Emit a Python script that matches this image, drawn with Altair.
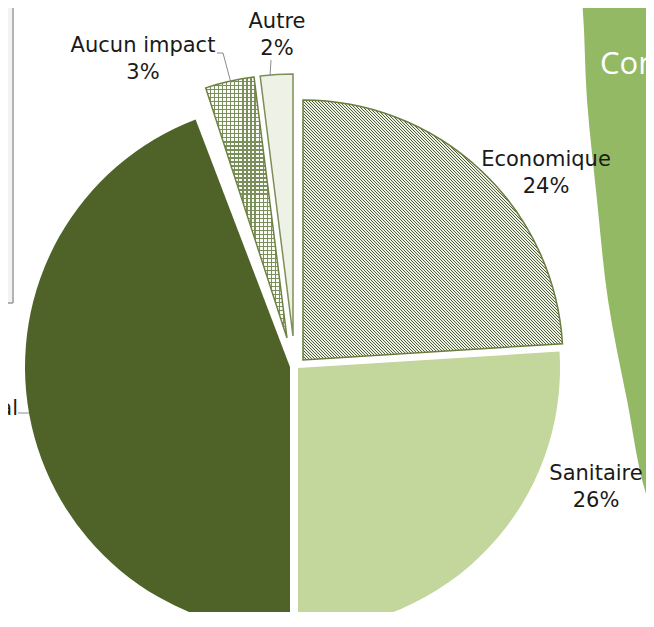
import math
import altair as alt
import pandas as pd

# ---------------- data ----------------
categories = ["Economique", "Sanitaire", "Environnemental", "Aucun impact", "Autre"]
values = [24, 26, 45, 3, 2]
pct_labels = ["24%", "26%", "45%", "3%", "2%"]

# ---------------- layout (page pixels) ----------------
M = 8                      # page margin
W, H = 638, 604            # chart size
CX, CY = 296 - M, 364 - M  # pie centre

# per-slice explosion offsets / radius / angle trims (styling)
slice_geo = {
    "Economique":      dict(dx=7,  dy=-4,  r=260, t1=0, t2=0),
    "Sanitaire":       dict(dx=2,  dy=4,   r=262, t1=0, t2=0),
    "Environnemental": dict(dx=-6, dy=3,   r=265, t1=0, t2=-0.05),
    "Aucun impact":    dict(dx=-9, dy=-26, r=263, t1=0, t2=0),
    "Autre":           dict(dx=-3, dy=-28, r=262, t1=0, t2=0),
}

# label anchors (page pixels, first line centre)
label_pos = {
    "Economique":   (546, 160),
    "Sanitaire":    (596, 474),
    "Aucun impact": (143, 46),
    "Autre":        (277, 22),
}
env_label_pos = (18, 409)

leader_x = [217, 223, 271, 18]
leader_y = [53, 53, 60, 413]
leader_x2 = [223, 231, 270, 29]
leader_y2 = [53, 83, 76, 413]

shape_y = [-10, 0, 100, 200, 300, 400, 500, 522]
shape_x = [581, 582, 587, 597, 608, 627, 648, 656]

# ---------------- helpers ----------------
def stripes(n, dark, light, frac, x1, y1, x2, y2):
    stops = []
    for i in range(n):
        a = i / n
        b = (i + frac) / n
        c = (i + 1) / n
        stops += [
            alt.GradientStop(color=dark, offset=round(a, 6)),
            alt.GradientStop(color=dark, offset=round(b, 6)),
            alt.GradientStop(color=light, offset=round(b, 6)),
            alt.GradientStop(color=light, offset=round(c, 6)),
        ]
    return alt.LinearGradient(gradient="linear", stops=stops, x1=x1, y1=y1, x2=x2, y2=y2)

econ_fill = stripes(173, "#4f5d39", "#eef2e6", 0.48, 0, 1, 1, 0)
aucun_h = stripes(65, "#7b8f5c", "#fafbf6", 0.3, 0, 0, 0, 1)
aucun_v = stripes(20, "#7b8f5c", "rgba(255,255,255,0)", 0.3, 0, 0, 1, 0)

# ---------------- tables ----------------
df = pd.DataFrame({"cat": categories, "value": values, "pct": pct_labels})
df["end"] = df["value"].cumsum()
df["start"] = df["end"] - df["value"]

xs = alt.Scale(domain=[0, W], range=[0, W], nice=False, zero=False)
ys = alt.Scale(domain=[0, H], range=[0, H], nice=False, zero=False)
ts = alt.Scale(domain=[0, 100], range=[0, 2 * math.pi])

base = alt.Chart(df)


def arc_layer(name, **mk):
    g = slice_geo[name]
    return (
        base.transform_filter(alt.datum.cat == name)
        .mark_arc(outerRadius=g["r"], xOffset=g["dx"], yOffset=g["dy"],
                  thetaOffset=g["t1"], theta2Offset=g["t2"], **mk)
        .encode(
            theta=alt.Theta("start:Q", scale=ts),
            theta2="end:Q",
            x=alt.value(CX),
            y=alt.value(CY),
        )
    )


arcs = [
    arc_layer("Environnemental", fill="#4f6228"),
    arc_layer("Sanitaire", fill="#c3d69b"),
    arc_layer("Economique", fill=econ_fill, stroke="#6a7d3e", strokeWidth=1.5),
    arc_layer("Aucun impact", fill=aucun_h),
    arc_layer("Aucun impact", fill=aucun_v, stroke="#6f8242", strokeWidth=1.5),
    arc_layer("Autre", fill="#eef1e6", stroke="#7d8f58", strokeWidth=1.5),
]

# green slide shape
shape_df = pd.DataFrame({"y": [v - M for v in shape_y], "x": [v - M for v in shape_x], "x2": [W + 20] * len(shape_y)})
shape = alt.Chart(shape_df).mark_area(color="#93b964", interpolate="monotone", orient="horizontal").encode(
    y=alt.Y("y:Q", scale=ys, axis=None),
    x=alt.X("x:Q", scale=xs, axis=None),
    x2="x2:Q",
)
shape_text = alt.Chart(pd.DataFrame({"t": ["Conclusion"], "x": [600 - M], "y": [65 - M]})).mark_text(
    align="left", baseline="middle", font="Open Sans", fontSize=31, color="#ffffff"
).encode(x=alt.X("x:Q", scale=xs, axis=None), y=alt.Y("y:Q", scale=ys, axis=None), text="t:N")

# left box lines
box_df = pd.DataFrame({"x": [13 - M, 0], "y": [0, 303 - M], "x2": [13 - M, 13 - M], "y2": [303 - M, 303 - M]})
box_fill = alt.Chart(pd.DataFrame({"x": [0], "x2": [13 - M - 1], "y": [0], "y2": [303 - M]})).mark_rect(
    color="#f3f3f3"
).encode(x=alt.X("x:Q", scale=xs, axis=None), x2="x2:Q", y=alt.Y("y:Q", scale=ys, axis=None), y2="y2:Q")
box = alt.Chart(box_df).mark_rule(color="#9a9a9a", strokeWidth=1.5).encode(
    x=alt.X("x:Q", scale=xs, axis=None), y=alt.Y("y:Q", scale=ys, axis=None), x2="x2:Q", y2="y2:Q"
)

# leader lines
lead_df = pd.DataFrame({
    "x": [v - M for v in leader_x], "y": [v - M for v in leader_y],
    "x2": [v - M for v in leader_x2], "y2": [v - M for v in leader_y2],
})
leaders = alt.Chart(lead_df).mark_rule(color="#8c8c8c", strokeWidth=1).encode(
    x=alt.X("x:Q", scale=xs, axis=None), y=alt.Y("y:Q", scale=ys, axis=None), x2="x2:Q", y2="y2:Q"
)

# labels
lab_rows = []
for c, p in zip(categories, pct_labels):
    if c in label_pos:
        lx, ly = label_pos[c]
        lab_rows.append({"t": c + "\n" + p, "x": lx - M, "y": ly - M})
lab_df = pd.DataFrame(lab_rows)
labels = alt.Chart(lab_df).mark_text(
    align="center", baseline="middle", lineBreak="\n", lineHeight=27,
    font="DejaVu Sans", fontSize=21, color="#1a1a1a"
).encode(x=alt.X("x:Q", scale=xs, axis=None), y=alt.Y("y:Q", scale=ys, axis=None), text="t:N")

env_df = pd.DataFrame({"t": [categories[2]], "x": [env_label_pos[0] - M], "y": [env_label_pos[1] - M]})
env_label = alt.Chart(env_df).mark_text(
    align="right", baseline="middle", font="DejaVu Sans", fontSize=21, color="#1a1a1a"
).encode(x=alt.X("x:Q", scale=xs, axis=None), y=alt.Y("y:Q", scale=ys, axis=None), text="t:N")

chart = alt.layer(
    box_fill, box, shape, shape_text, *arcs, leaders, labels, env_label
).properties(
    width=W, height=H,
    autosize=alt.AutoSizeParams(type="none"),
    padding=0,
    background="#ffffff",
).configure_view(stroke=None)

chart.save("out.html", embed_options={"renderer": "svg", "actions": False})
